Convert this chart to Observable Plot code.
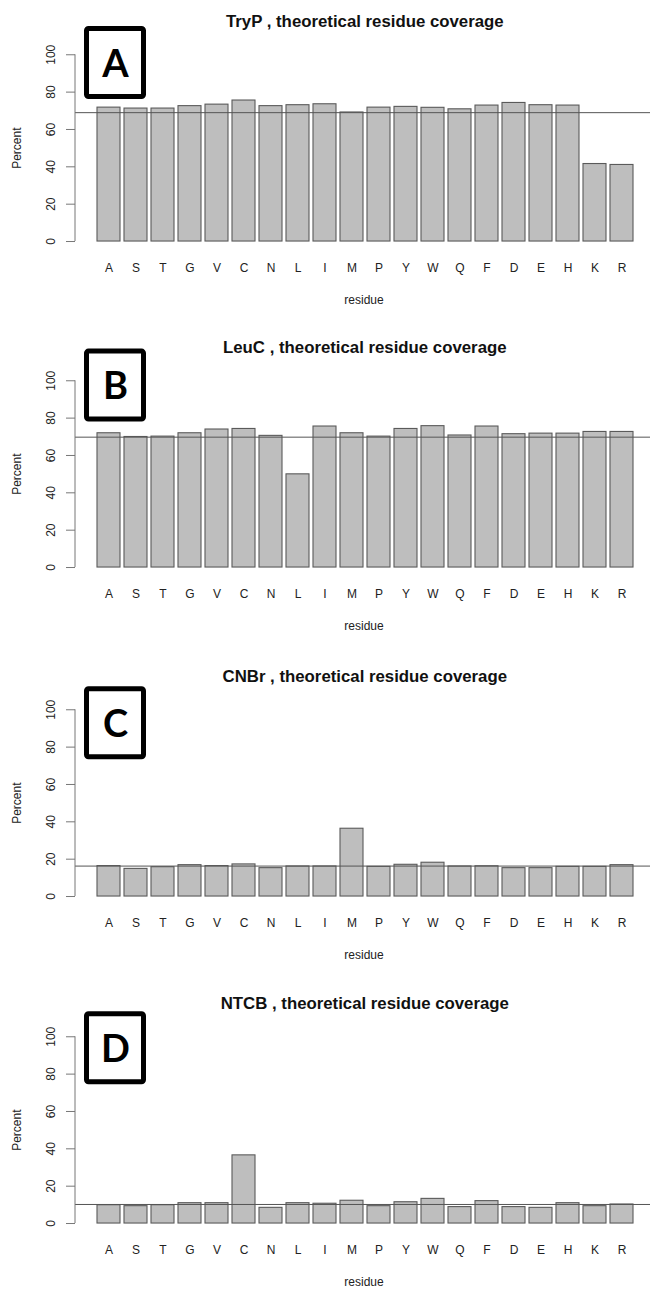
<!DOCTYPE html>
<html><head><meta charset="utf-8">
<script src="https://cdn.jsdelivr.net/npm/d3@7"></script>
<script src="https://cdn.jsdelivr.net/npm/@observablehq/plot@0.6"></script>
<style>
body{margin:0;background:#fff;}
#chart{position:relative;width:650px;height:1289px;overflow:hidden;background:#fff;}
.panel{position:absolute;left:0;}
</style></head><body><div id="chart"></div>
<script>
// ---- data ----
const residues = ["A","S","T","G","V","C","N","L","I","M","P","Y","W","Q","F","D","E","H","K","R"];
const tryP = [71.7,71.2,71.2,72.5,73.3,75.5,72.5,73.0,73.5,69.1,71.7,72.1,71.6,70.8,72.8,74.2,73.0,72.8,41.5,41.0];
const leuC = [71.9,69.9,70.1,71.9,73.9,74.2,70.5,49.9,75.5,71.9,70.1,74.2,75.7,70.7,75.5,71.4,71.7,71.7,72.6,72.6];
const cnbr = [16.3,14.8,15.7,16.8,16.3,17.2,15.2,16.1,16.1,36.3,15.9,17.0,18.1,16.1,16.2,15.2,15.2,15.9,15.9,16.8];
const ntcb = [9.8,9.3,9.8,10.9,10.9,36.5,8.4,10.9,10.6,12.2,9.3,11.4,13.2,8.8,12.0,8.8,8.4,10.9,9.3,10.2];
const enzymes = ["TryP","LeuC","CNBr","NTCB"];
const panelLetters = ["A","B","C","D"];
const referenceLines = [69.0, 69.8, 16.3, 10.2];
const yTicks = [0,20,40,60,80,100];
const seriesList = [tryP, leuC, cnbr, ntcb];

// ---- layout ----
const panelTops = [0, 325.7, 654.7, 981.7];
const boxTops = [26, 22.6, 31.3, 29.3];
const W = 650, H = 330;
const marginLeft = 75, marginTop = 46.8, frameBottom = 248.5;
const font = "'Liberation Sans', Arial, Helvetica, sans-serif";

const chart = document.getElementById("chart");

seriesList.forEach((values, k) => {
  const rows = residues.map((r, i) => ({residue: r, value: values[i]}));
  const boxTop = boxTops[k];

  const yAxisLine = (index, scales, vals, dims) => {
    const g = d3.create("svg:g");
    g.append("line")
      .attr("x1", dims.marginLeft).attr("x2", dims.marginLeft)
      .attr("y1", scales.y(0)).attr("y2", scales.y(100))
      .attr("stroke", "#777").attr("stroke-width", 1);
    return g.node();
  };
  const labelBox = (index, scales, vals, dims) => {
    const g = d3.create("svg:g");
    g.append("rect")
      .attr("x", 86.5).attr("y", boxTop + 2.5)
      .attr("width", 57).attr("height", 68).attr("rx", 2)
      .attr("fill", "white").attr("stroke", "black").attr("stroke-width", 5);
    return g.node();
  };

  const svg = Plot.plot({
    width: W, height: H,
    marginLeft, marginRight: 0, marginTop, marginBottom: H - frameBottom,
    style: {fontFamily: font, fontSize: "12px", background: "white", color: "#222", overflow: "visible"},
    x: {domain: residues, range: [75, 653.7], paddingInner: 1/6, paddingOuter: 0.793, label: null},
    y: {domain: [-4, 104], label: null},
    marks: [
      Plot.barY(rows, {x: "residue", y: "value", fill: "#bebebe", stroke: "#5a5a5a", strokeWidth: 1.1}),
      Plot.ruleY([referenceLines[k]], {stroke: "#555", strokeWidth: 1}),
      Plot.axisX({tickSize: 0, tickPadding: 14, fontSize: 12, fill: "#222", label: null}),
      Plot.axisY({ticks: yTicks, tickSize: 9, tickPadding: 12, tickRotate: -90, fontSize: 12, stroke: "#777", fill: "#222", label: null}),
      yAxisLine,
      Plot.text([`${enzymes[k]} , theoretical residue coverage`], {text: d => d, frameAnchor: "top", textAnchor: "middle", lineAnchor: "middle", dy: -25.4, dx: 1.8, fontWeight: "bold", fontSize: 16.8, fill: "#111"}),
      Plot.text(["Percent"], {text: d => d, frameAnchor: "left", textAnchor: "middle", lineAnchor: "middle", rotate: -90, dx: -58.4, fontSize: 12, fill: "#222"}),
      Plot.text(["residue"], {text: d => d, frameAnchor: "bottom", textAnchor: "middle", lineAnchor: "middle", dy: 51.5, dx: 1, fontSize: 12, fill: "#222"}),
      labelBox,
      Plot.text([panelLetters[k]], {text: d => d, frameAnchor: "top-left", textAnchor: "middle", lineAnchor: "middle", dx: 40, dy: boxTop + 38 - marginTop, fontSize: 38, fontWeight: "bold", fontFamily: "Lato, 'Open Sans', sans-serif", fill: "#000"})
    ]
  });
  const div = document.createElement("div");
  div.className = "panel";
  div.style.top = panelTops[k] + "px";
  div.appendChild(svg);
  chart.appendChild(div);
});
</script>
</body></html>
